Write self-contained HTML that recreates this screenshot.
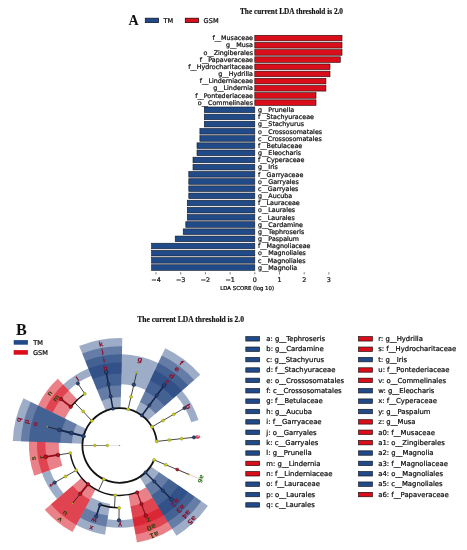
<!DOCTYPE html>
<html><head><meta charset="utf-8"><title>LEfSe</title>
<style>html,body{margin:0;padding:0;background:#fff}svg{display:block}</style></head>
<body><svg width="467" height="550" viewBox="0 0 467 550">
<rect width="467" height="550" fill="#fff"/>
<text x="240.0" y="14.0" font-family='"Liberation Serif","DejaVu Serif",serif' font-weight="bold" font-size="8.0" textLength="103" lengthAdjust="spacingAndGlyphs" fill="#111" stroke="#111" stroke-width="0.18">The current LDA threshold is 2.0</text>
<text x="128.6" y="24.5" font-family='"Liberation Serif","DejaVu Serif",serif' font-weight="bold" font-size="14.0" fill="#111">A</text>
<rect x="145.3" y="18.2" width="13.2" height="4.4" fill="#214a88" stroke="#141a28" stroke-width="0.8"/>
<text x="163.6" y="23" font-family='"DejaVu Sans","Liberation Sans",sans-serif' font-size="6.6" fill="#111" stroke="#111" stroke-width="0.24">TM</text>
<rect x="185.3" y="18.2" width="13.2" height="4.4" fill="#d90e1a" stroke="#2a0a0c" stroke-width="0.8"/>
<text x="203.6" y="23" font-family='"DejaVu Sans","Liberation Sans",sans-serif' font-size="6.6" fill="#111" stroke="#111" stroke-width="0.24">GSM</text>
<rect x="254.8" y="35.30" width="87.2" height="5.6" fill="#d90e1a" stroke="#2a0a0c" stroke-width="0.62"/>
<text x="253.0" y="40.30" text-anchor="end" font-family='"DejaVu Sans","Liberation Sans",sans-serif' font-size="6.35" fill="#111" stroke="#111" stroke-width="0.24">f__Musaceae</text>
<rect x="254.8" y="42.47" width="87.2" height="5.6" fill="#d90e1a" stroke="#2a0a0c" stroke-width="0.62"/>
<text x="253.0" y="47.47" text-anchor="end" font-family='"DejaVu Sans","Liberation Sans",sans-serif' font-size="6.35" fill="#111" stroke="#111" stroke-width="0.24">g__Musa</text>
<rect x="254.8" y="49.64" width="87.2" height="5.6" fill="#d90e1a" stroke="#2a0a0c" stroke-width="0.62"/>
<text x="253.0" y="54.64" text-anchor="end" font-family='"DejaVu Sans","Liberation Sans",sans-serif' font-size="6.35" fill="#111" stroke="#111" stroke-width="0.24">o__Zingiberales</text>
<rect x="254.8" y="56.81" width="85.5" height="5.6" fill="#d90e1a" stroke="#2a0a0c" stroke-width="0.62"/>
<text x="253.0" y="61.81" text-anchor="end" font-family='"DejaVu Sans","Liberation Sans",sans-serif' font-size="6.35" fill="#111" stroke="#111" stroke-width="0.24">f__Papaveraceae</text>
<rect x="254.8" y="63.98" width="75.2" height="5.6" fill="#d90e1a" stroke="#2a0a0c" stroke-width="0.62"/>
<text x="253.0" y="68.98" text-anchor="end" font-family='"DejaVu Sans","Liberation Sans",sans-serif' font-size="6.35" fill="#111" stroke="#111" stroke-width="0.24">f__Hydrocharitaceae</text>
<rect x="254.8" y="71.15" width="75.2" height="5.6" fill="#d90e1a" stroke="#2a0a0c" stroke-width="0.62"/>
<text x="253.0" y="76.15" text-anchor="end" font-family='"DejaVu Sans","Liberation Sans",sans-serif' font-size="6.35" fill="#111" stroke="#111" stroke-width="0.24">g__Hydrilla</text>
<rect x="254.8" y="78.32" width="71.1" height="5.6" fill="#d90e1a" stroke="#2a0a0c" stroke-width="0.62"/>
<text x="253.0" y="83.32" text-anchor="end" font-family='"DejaVu Sans","Liberation Sans",sans-serif' font-size="6.35" fill="#111" stroke="#111" stroke-width="0.24">f__Linderniaceae</text>
<rect x="254.8" y="85.49" width="71.1" height="5.6" fill="#d90e1a" stroke="#2a0a0c" stroke-width="0.62"/>
<text x="253.0" y="90.49" text-anchor="end" font-family='"DejaVu Sans","Liberation Sans",sans-serif' font-size="6.35" fill="#111" stroke="#111" stroke-width="0.24">g__Lindernia</text>
<rect x="254.8" y="92.66" width="61.2" height="5.6" fill="#d90e1a" stroke="#2a0a0c" stroke-width="0.62"/>
<text x="253.0" y="97.66" text-anchor="end" font-family='"DejaVu Sans","Liberation Sans",sans-serif' font-size="6.35" fill="#111" stroke="#111" stroke-width="0.24">f__Pontederiaceae</text>
<rect x="254.8" y="99.83" width="61.2" height="5.6" fill="#d90e1a" stroke="#2a0a0c" stroke-width="0.62"/>
<text x="253.0" y="104.83" text-anchor="end" font-family='"DejaVu Sans","Liberation Sans",sans-serif' font-size="6.35" fill="#111" stroke="#111" stroke-width="0.24">o__Commelinales</text>
<rect x="204.3" y="107.00" width="50.5" height="5.6" fill="#214a88" stroke="#141a28" stroke-width="0.62"/>
<text x="258.0" y="112.00" font-family='"DejaVu Sans","Liberation Sans",sans-serif' font-size="6.35" fill="#111" stroke="#111" stroke-width="0.24">g__Prunella</text>
<rect x="204.3" y="114.17" width="50.5" height="5.6" fill="#214a88" stroke="#141a28" stroke-width="0.62"/>
<text x="258.0" y="119.17" font-family='"DejaVu Sans","Liberation Sans",sans-serif' font-size="6.35" fill="#111" stroke="#111" stroke-width="0.24">f__Stachyuraceae</text>
<rect x="204.3" y="121.34" width="50.5" height="5.6" fill="#214a88" stroke="#141a28" stroke-width="0.62"/>
<text x="258.0" y="126.34" font-family='"DejaVu Sans","Liberation Sans",sans-serif' font-size="6.35" fill="#111" stroke="#111" stroke-width="0.24">g__Stachyurus</text>
<rect x="199.9" y="128.51" width="54.9" height="5.6" fill="#214a88" stroke="#141a28" stroke-width="0.62"/>
<text x="258.0" y="133.51" font-family='"DejaVu Sans","Liberation Sans",sans-serif' font-size="6.35" fill="#111" stroke="#111" stroke-width="0.24">o__Crossosomatales</text>
<rect x="199.9" y="135.68" width="54.9" height="5.6" fill="#214a88" stroke="#141a28" stroke-width="0.62"/>
<text x="258.0" y="140.68" font-family='"DejaVu Sans","Liberation Sans",sans-serif' font-size="6.35" fill="#111" stroke="#111" stroke-width="0.24">c__Crossosomatales</text>
<rect x="197.0" y="142.85" width="57.8" height="5.6" fill="#214a88" stroke="#141a28" stroke-width="0.62"/>
<text x="258.0" y="147.85" font-family='"DejaVu Sans","Liberation Sans",sans-serif' font-size="6.35" fill="#111" stroke="#111" stroke-width="0.24">f__Betulaceae</text>
<rect x="197.0" y="150.02" width="57.8" height="5.6" fill="#214a88" stroke="#141a28" stroke-width="0.62"/>
<text x="258.0" y="155.02" font-family='"DejaVu Sans","Liberation Sans",sans-serif' font-size="6.35" fill="#111" stroke="#111" stroke-width="0.24">g__Eleocharis</text>
<rect x="193.0" y="157.19" width="61.8" height="5.6" fill="#214a88" stroke="#141a28" stroke-width="0.62"/>
<text x="258.0" y="162.19" font-family='"DejaVu Sans","Liberation Sans",sans-serif' font-size="6.35" fill="#111" stroke="#111" stroke-width="0.24">f__Cyperaceae</text>
<rect x="193.0" y="164.36" width="61.8" height="5.6" fill="#214a88" stroke="#141a28" stroke-width="0.62"/>
<text x="258.0" y="169.36" font-family='"DejaVu Sans","Liberation Sans",sans-serif' font-size="6.35" fill="#111" stroke="#111" stroke-width="0.24">g__Iris</text>
<rect x="188.8" y="171.53" width="66.0" height="5.6" fill="#214a88" stroke="#141a28" stroke-width="0.62"/>
<text x="258.0" y="176.53" font-family='"DejaVu Sans","Liberation Sans",sans-serif' font-size="6.35" fill="#111" stroke="#111" stroke-width="0.24">f__Garryaceae</text>
<rect x="188.8" y="178.70" width="66.0" height="5.6" fill="#214a88" stroke="#141a28" stroke-width="0.62"/>
<text x="258.0" y="183.70" font-family='"DejaVu Sans","Liberation Sans",sans-serif' font-size="6.35" fill="#111" stroke="#111" stroke-width="0.24">o__Garryales</text>
<rect x="188.8" y="185.87" width="66.0" height="5.6" fill="#214a88" stroke="#141a28" stroke-width="0.62"/>
<text x="258.0" y="190.87" font-family='"DejaVu Sans","Liberation Sans",sans-serif' font-size="6.35" fill="#111" stroke="#111" stroke-width="0.24">c__Garryales</text>
<rect x="188.8" y="193.04" width="66.0" height="5.6" fill="#214a88" stroke="#141a28" stroke-width="0.62"/>
<text x="258.0" y="198.04" font-family='"DejaVu Sans","Liberation Sans",sans-serif' font-size="6.35" fill="#111" stroke="#111" stroke-width="0.24">g__Aucuba</text>
<rect x="187.3" y="200.21" width="67.5" height="5.6" fill="#214a88" stroke="#141a28" stroke-width="0.62"/>
<text x="258.0" y="205.21" font-family='"DejaVu Sans","Liberation Sans",sans-serif' font-size="6.35" fill="#111" stroke="#111" stroke-width="0.24">f__Lauraceae</text>
<rect x="187.3" y="207.38" width="67.5" height="5.6" fill="#214a88" stroke="#141a28" stroke-width="0.62"/>
<text x="258.0" y="212.38" font-family='"DejaVu Sans","Liberation Sans",sans-serif' font-size="6.35" fill="#111" stroke="#111" stroke-width="0.24">o__Laurales</text>
<rect x="187.3" y="214.55" width="67.5" height="5.6" fill="#214a88" stroke="#141a28" stroke-width="0.62"/>
<text x="258.0" y="219.55" font-family='"DejaVu Sans","Liberation Sans",sans-serif' font-size="6.35" fill="#111" stroke="#111" stroke-width="0.24">c__Laurales</text>
<rect x="185.8" y="221.72" width="69.0" height="5.6" fill="#214a88" stroke="#141a28" stroke-width="0.62"/>
<text x="258.0" y="226.72" font-family='"DejaVu Sans","Liberation Sans",sans-serif' font-size="6.35" fill="#111" stroke="#111" stroke-width="0.24">g__Cardamine</text>
<rect x="183.2" y="228.89" width="71.6" height="5.6" fill="#214a88" stroke="#141a28" stroke-width="0.62"/>
<text x="258.0" y="233.89" font-family='"DejaVu Sans","Liberation Sans",sans-serif' font-size="6.35" fill="#111" stroke="#111" stroke-width="0.24">g__Tephroseris</text>
<rect x="175.2" y="236.06" width="79.6" height="5.6" fill="#214a88" stroke="#141a28" stroke-width="0.62"/>
<text x="258.0" y="241.06" font-family='"DejaVu Sans","Liberation Sans",sans-serif' font-size="6.35" fill="#111" stroke="#111" stroke-width="0.24">g__Paspalum</text>
<rect x="151.6" y="243.23" width="103.2" height="5.6" fill="#214a88" stroke="#141a28" stroke-width="0.62"/>
<text x="258.0" y="248.23" font-family='"DejaVu Sans","Liberation Sans",sans-serif' font-size="6.35" fill="#111" stroke="#111" stroke-width="0.24">f__Magnoliaceae</text>
<rect x="151.6" y="250.40" width="103.2" height="5.6" fill="#214a88" stroke="#141a28" stroke-width="0.62"/>
<text x="258.0" y="255.40" font-family='"DejaVu Sans","Liberation Sans",sans-serif' font-size="6.35" fill="#111" stroke="#111" stroke-width="0.24">o__Magnoliales</text>
<rect x="151.6" y="257.57" width="103.2" height="5.6" fill="#214a88" stroke="#141a28" stroke-width="0.62"/>
<text x="258.0" y="262.57" font-family='"DejaVu Sans","Liberation Sans",sans-serif' font-size="6.35" fill="#111" stroke="#111" stroke-width="0.24">c__Magnoliales</text>
<rect x="151.6" y="264.74" width="103.2" height="5.6" fill="#214a88" stroke="#141a28" stroke-width="0.62"/>
<text x="258.0" y="269.74" font-family='"DejaVu Sans","Liberation Sans",sans-serif' font-size="6.35" fill="#111" stroke="#111" stroke-width="0.24">g__Magnolia</text>
<line x1="156.0" y1="272.2" x2="156.0" y2="274.4" stroke="#222" stroke-width="0.6"/>
<text x="156.0" y="282.3" text-anchor="middle" font-family='"DejaVu Sans","Liberation Sans",sans-serif' font-size="6.4" fill="#111" stroke="#111" stroke-width="0.24">−4</text>
<line x1="180.7" y1="272.2" x2="180.7" y2="274.4" stroke="#222" stroke-width="0.6"/>
<text x="180.7" y="282.3" text-anchor="middle" font-family='"DejaVu Sans","Liberation Sans",sans-serif' font-size="6.4" fill="#111" stroke="#111" stroke-width="0.24">−3</text>
<line x1="205.4" y1="272.2" x2="205.4" y2="274.4" stroke="#222" stroke-width="0.6"/>
<text x="205.4" y="282.3" text-anchor="middle" font-family='"DejaVu Sans","Liberation Sans",sans-serif' font-size="6.4" fill="#111" stroke="#111" stroke-width="0.24">−2</text>
<line x1="230.1" y1="272.2" x2="230.1" y2="274.4" stroke="#222" stroke-width="0.6"/>
<text x="230.1" y="282.3" text-anchor="middle" font-family='"DejaVu Sans","Liberation Sans",sans-serif' font-size="6.4" fill="#111" stroke="#111" stroke-width="0.24">−1</text>
<line x1="254.8" y1="272.2" x2="254.8" y2="274.4" stroke="#222" stroke-width="0.6"/>
<text x="254.8" y="282.3" text-anchor="middle" font-family='"DejaVu Sans","Liberation Sans",sans-serif' font-size="6.4" fill="#111" stroke="#111" stroke-width="0.24">0</text>
<line x1="279.5" y1="272.2" x2="279.5" y2="274.4" stroke="#222" stroke-width="0.6"/>
<text x="279.5" y="282.3" text-anchor="middle" font-family='"DejaVu Sans","Liberation Sans",sans-serif' font-size="6.4" fill="#111" stroke="#111" stroke-width="0.24">1</text>
<line x1="304.2" y1="272.2" x2="304.2" y2="274.4" stroke="#222" stroke-width="0.6"/>
<text x="304.2" y="282.3" text-anchor="middle" font-family='"DejaVu Sans","Liberation Sans",sans-serif' font-size="6.4" fill="#111" stroke="#111" stroke-width="0.24">2</text>
<line x1="328.9" y1="272.2" x2="328.9" y2="274.4" stroke="#222" stroke-width="0.6"/>
<text x="328.9" y="282.3" text-anchor="middle" font-family='"DejaVu Sans","Liberation Sans",sans-serif' font-size="6.4" fill="#111" stroke="#111" stroke-width="0.24">3</text>
<text x="247.2" y="289.6" text-anchor="middle" font-family='"DejaVu Sans","Liberation Sans",sans-serif' font-size="5.4" fill="#111" stroke="#111" stroke-width="0.24">LDA SCORE (log 10)</text>
<text x="137.2" y="322.0" font-family='"Liberation Serif","DejaVu Serif",serif' font-weight="bold" font-size="8.2" textLength="106.8" lengthAdjust="spacingAndGlyphs" fill="#111" stroke="#111" stroke-width="0.18">The current LDA threshold is 2.0</text>
<text x="16.0" y="334.9" font-family='"Liberation Serif","DejaVu Serif",serif' font-weight="bold" font-size="16.2" fill="#111">B</text>
<rect x="13.7" y="340.1" width="14.2" height="4.6" fill="#214a88"/>
<text x="33.3" y="344.9" font-family='"DejaVu Sans","Liberation Sans",sans-serif' font-size="6.6" fill="#111" stroke="#111" stroke-width="0.22">TM</text>
<rect x="13.7" y="350.1" width="14.2" height="4.6" fill="#d90e1a"/>
<text x="33.0" y="354.9" font-family='"DejaVu Sans","Liberation Sans",sans-serif' font-size="6.6" fill="#111" stroke="#111" stroke-width="0.22">GSM</text>
<rect x="245.8" y="336.65" width="13.8" height="4.4" fill="#214a88" stroke="#141a28" stroke-width="0.7"/>
<text x="266.3" y="341.10" font-family='"DejaVu Sans","Liberation Sans",sans-serif' font-size="6.85" fill="#111" stroke="#111" stroke-width="0.24">a: g__Tephroseris</text>
<rect x="245.8" y="347.03" width="13.8" height="4.4" fill="#214a88" stroke="#141a28" stroke-width="0.7"/>
<text x="266.3" y="351.48" font-family='"DejaVu Sans","Liberation Sans",sans-serif' font-size="6.85" fill="#111" stroke="#111" stroke-width="0.24">b: g__Cardamine</text>
<rect x="245.8" y="357.41" width="13.8" height="4.4" fill="#214a88" stroke="#141a28" stroke-width="0.7"/>
<text x="266.3" y="361.86" font-family='"DejaVu Sans","Liberation Sans",sans-serif' font-size="6.85" fill="#111" stroke="#111" stroke-width="0.24">c: g__Stachyurus</text>
<rect x="245.8" y="367.79" width="13.8" height="4.4" fill="#214a88" stroke="#141a28" stroke-width="0.7"/>
<text x="266.3" y="372.24" font-family='"DejaVu Sans","Liberation Sans",sans-serif' font-size="6.85" fill="#111" stroke="#111" stroke-width="0.24">d: f__Stachyuraceae</text>
<rect x="245.8" y="378.17" width="13.8" height="4.4" fill="#214a88" stroke="#141a28" stroke-width="0.7"/>
<text x="266.3" y="382.62" font-family='"DejaVu Sans","Liberation Sans",sans-serif' font-size="6.85" fill="#111" stroke="#111" stroke-width="0.24">e: o__Crossosomatales</text>
<rect x="245.8" y="388.55" width="13.8" height="4.4" fill="#214a88" stroke="#141a28" stroke-width="0.7"/>
<text x="266.3" y="393.00" font-family='"DejaVu Sans","Liberation Sans",sans-serif' font-size="6.85" fill="#111" stroke="#111" stroke-width="0.24">f: c__Crossosomatales</text>
<rect x="245.8" y="398.93" width="13.8" height="4.4" fill="#214a88" stroke="#141a28" stroke-width="0.7"/>
<text x="266.3" y="403.38" font-family='"DejaVu Sans","Liberation Sans",sans-serif' font-size="6.85" fill="#111" stroke="#111" stroke-width="0.24">g: f__Betulaceae</text>
<rect x="245.8" y="409.31" width="13.8" height="4.4" fill="#214a88" stroke="#141a28" stroke-width="0.7"/>
<text x="266.3" y="413.76" font-family='"DejaVu Sans","Liberation Sans",sans-serif' font-size="6.85" fill="#111" stroke="#111" stroke-width="0.24">h: g__Aucuba</text>
<rect x="245.8" y="419.69" width="13.8" height="4.4" fill="#214a88" stroke="#141a28" stroke-width="0.7"/>
<text x="266.3" y="424.14" font-family='"DejaVu Sans","Liberation Sans",sans-serif' font-size="6.85" fill="#111" stroke="#111" stroke-width="0.24">i: f__Garryaceae</text>
<rect x="245.8" y="430.07" width="13.8" height="4.4" fill="#214a88" stroke="#141a28" stroke-width="0.7"/>
<text x="266.3" y="434.52" font-family='"DejaVu Sans","Liberation Sans",sans-serif' font-size="6.85" fill="#111" stroke="#111" stroke-width="0.24">j: o__Garryales</text>
<rect x="245.8" y="440.45" width="13.8" height="4.4" fill="#214a88" stroke="#141a28" stroke-width="0.7"/>
<text x="266.3" y="444.90" font-family='"DejaVu Sans","Liberation Sans",sans-serif' font-size="6.85" fill="#111" stroke="#111" stroke-width="0.24">k: c__Garryales</text>
<rect x="245.8" y="450.83" width="13.8" height="4.4" fill="#214a88" stroke="#141a28" stroke-width="0.7"/>
<text x="266.3" y="455.28" font-family='"DejaVu Sans","Liberation Sans",sans-serif' font-size="6.85" fill="#111" stroke="#111" stroke-width="0.24">l: g__Prunella</text>
<rect x="245.8" y="461.21" width="13.8" height="4.4" fill="#d90e1a" stroke="#2a0a0c" stroke-width="0.7"/>
<text x="266.3" y="465.66" font-family='"DejaVu Sans","Liberation Sans",sans-serif' font-size="6.85" fill="#111" stroke="#111" stroke-width="0.24">m: g__Lindernia</text>
<rect x="245.8" y="471.59" width="13.8" height="4.4" fill="#d90e1a" stroke="#2a0a0c" stroke-width="0.7"/>
<text x="266.3" y="476.04" font-family='"DejaVu Sans","Liberation Sans",sans-serif' font-size="6.85" fill="#111" stroke="#111" stroke-width="0.24">n: f__Linderniaceae</text>
<rect x="245.8" y="481.97" width="13.8" height="4.4" fill="#214a88" stroke="#141a28" stroke-width="0.7"/>
<text x="266.3" y="486.42" font-family='"DejaVu Sans","Liberation Sans",sans-serif' font-size="6.85" fill="#111" stroke="#111" stroke-width="0.24">o: f__Lauraceae</text>
<rect x="245.8" y="492.35" width="13.8" height="4.4" fill="#214a88" stroke="#141a28" stroke-width="0.7"/>
<text x="266.3" y="496.80" font-family='"DejaVu Sans","Liberation Sans",sans-serif' font-size="6.85" fill="#111" stroke="#111" stroke-width="0.24">p: o__Laurales</text>
<rect x="245.8" y="502.73" width="13.8" height="4.4" fill="#214a88" stroke="#141a28" stroke-width="0.7"/>
<text x="266.3" y="507.18" font-family='"DejaVu Sans","Liberation Sans",sans-serif' font-size="6.85" fill="#111" stroke="#111" stroke-width="0.24">q: c__Laurales</text>
<rect x="358.6" y="336.65" width="13.8" height="4.4" fill="#d90e1a" stroke="#2a0a0c" stroke-width="0.7"/>
<text x="378.3" y="341.10" font-family='"DejaVu Sans","Liberation Sans",sans-serif' font-size="6.85" fill="#111" stroke="#111" stroke-width="0.24">r: g__Hydrilla</text>
<rect x="358.6" y="347.03" width="13.8" height="4.4" fill="#d90e1a" stroke="#2a0a0c" stroke-width="0.7"/>
<text x="378.3" y="351.48" font-family='"DejaVu Sans","Liberation Sans",sans-serif' font-size="6.85" fill="#111" stroke="#111" stroke-width="0.24">s: f__Hydrocharitaceae</text>
<rect x="358.6" y="357.41" width="13.8" height="4.4" fill="#214a88" stroke="#141a28" stroke-width="0.7"/>
<text x="378.3" y="361.86" font-family='"DejaVu Sans","Liberation Sans",sans-serif' font-size="6.85" fill="#111" stroke="#111" stroke-width="0.24">t: g__Iris</text>
<rect x="358.6" y="367.79" width="13.8" height="4.4" fill="#d90e1a" stroke="#2a0a0c" stroke-width="0.7"/>
<text x="378.3" y="372.24" font-family='"DejaVu Sans","Liberation Sans",sans-serif' font-size="6.85" fill="#111" stroke="#111" stroke-width="0.24">u: f__Pontederiaceae</text>
<rect x="358.6" y="378.17" width="13.8" height="4.4" fill="#d90e1a" stroke="#2a0a0c" stroke-width="0.7"/>
<text x="378.3" y="382.62" font-family='"DejaVu Sans","Liberation Sans",sans-serif' font-size="6.85" fill="#111" stroke="#111" stroke-width="0.24">v: o__Commelinales</text>
<rect x="358.6" y="388.55" width="13.8" height="4.4" fill="#214a88" stroke="#141a28" stroke-width="0.7"/>
<text x="378.3" y="393.00" font-family='"DejaVu Sans","Liberation Sans",sans-serif' font-size="6.85" fill="#111" stroke="#111" stroke-width="0.24">w: g__Eleocharis</text>
<rect x="358.6" y="398.93" width="13.8" height="4.4" fill="#214a88" stroke="#141a28" stroke-width="0.7"/>
<text x="378.3" y="403.38" font-family='"DejaVu Sans","Liberation Sans",sans-serif' font-size="6.85" fill="#111" stroke="#111" stroke-width="0.24">x: f__Cyperaceae</text>
<rect x="358.6" y="409.31" width="13.8" height="4.4" fill="#214a88" stroke="#141a28" stroke-width="0.7"/>
<text x="378.3" y="413.76" font-family='"DejaVu Sans","Liberation Sans",sans-serif' font-size="6.85" fill="#111" stroke="#111" stroke-width="0.24">y: g__Paspalum</text>
<rect x="358.6" y="419.69" width="13.8" height="4.4" fill="#d90e1a" stroke="#2a0a0c" stroke-width="0.7"/>
<text x="378.3" y="424.14" font-family='"DejaVu Sans","Liberation Sans",sans-serif' font-size="6.85" fill="#111" stroke="#111" stroke-width="0.24">z: g__Musa</text>
<rect x="358.6" y="430.07" width="13.8" height="4.4" fill="#d90e1a" stroke="#2a0a0c" stroke-width="0.7"/>
<text x="378.3" y="434.52" font-family='"DejaVu Sans","Liberation Sans",sans-serif' font-size="6.85" fill="#111" stroke="#111" stroke-width="0.24">a0: f__Musaceae</text>
<rect x="358.6" y="440.45" width="13.8" height="4.4" fill="#d90e1a" stroke="#2a0a0c" stroke-width="0.7"/>
<text x="378.3" y="444.90" font-family='"DejaVu Sans","Liberation Sans",sans-serif' font-size="6.85" fill="#111" stroke="#111" stroke-width="0.24">a1: o__Zingiberales</text>
<rect x="358.6" y="450.83" width="13.8" height="4.4" fill="#214a88" stroke="#141a28" stroke-width="0.7"/>
<text x="378.3" y="455.28" font-family='"DejaVu Sans","Liberation Sans",sans-serif' font-size="6.85" fill="#111" stroke="#111" stroke-width="0.24">a2: g__Magnolia</text>
<rect x="358.6" y="461.21" width="13.8" height="4.4" fill="#214a88" stroke="#141a28" stroke-width="0.7"/>
<text x="378.3" y="465.66" font-family='"DejaVu Sans","Liberation Sans",sans-serif' font-size="6.85" fill="#111" stroke="#111" stroke-width="0.24">a3: f__Magnoliaceae</text>
<rect x="358.6" y="471.59" width="13.8" height="4.4" fill="#214a88" stroke="#141a28" stroke-width="0.7"/>
<text x="378.3" y="476.04" font-family='"DejaVu Sans","Liberation Sans",sans-serif' font-size="6.85" fill="#111" stroke="#111" stroke-width="0.24">a4: o__Magnoliales</text>
<rect x="358.6" y="481.97" width="13.8" height="4.4" fill="#214a88" stroke="#141a28" stroke-width="0.7"/>
<text x="378.3" y="486.42" font-family='"DejaVu Sans","Liberation Sans",sans-serif' font-size="6.85" fill="#111" stroke="#111" stroke-width="0.24">a5: c__Magnoliales</text>
<rect x="358.6" y="492.35" width="13.8" height="4.4" fill="#d90e1a" stroke="#2a0a0c" stroke-width="0.7"/>
<text x="378.3" y="496.80" font-family='"DejaVu Sans","Liberation Sans",sans-serif' font-size="6.85" fill="#111" stroke="#111" stroke-width="0.24">a6: f__Papaveraceae</text>
<path d="M198.51 420.03 A82.7 82.7 0 0 0 181.97 390.68 L176.25 395.68 A75.10 75.10 0 0 1 191.26 422.33 Z" fill="#173b7a" fill-opacity="0.42"/>
<path d="M200.27 374.69 A107.0 107.0 0 0 0 165.17 348.24 L135.21 412.06 A36.50 36.50 0 0 1 147.18 421.08 Z" fill="#173b7a" fill-opacity="0.42"/>
<path d="M194.17 380.02 A98.9 98.9 0 0 0 161.73 355.58 L139.99 401.88 A47.75 47.75 0 0 1 155.66 413.68 Z" fill="#173b7a" fill-opacity="0.42"/>
<path d="M188.07 385.35 A90.8 90.8 0 0 0 158.29 362.91 L145.03 391.16 A59.59 59.59 0 0 1 164.57 405.89 Z" fill="#173b7a" fill-opacity="0.42"/>
<path d="M181.97 390.68 A82.7 82.7 0 0 0 154.85 370.24 L150.06 380.44 A71.43 71.43 0 0 1 173.49 398.09 Z" fill="#173b7a" fill-opacity="0.42"/>
<path d="M158.29 362.91 A90.8 90.8 0 0 0 121.92 354.33 L121.19 384.22 A60.90 60.90 0 0 1 145.58 389.97 Z" fill="#173b7a" fill-opacity="0.42"/>
<path d="M122.31 338.13 A107.0 107.0 0 0 0 79.18 346.07 L105.88 411.32 A36.50 36.50 0 0 1 120.59 408.61 Z" fill="#173b7a" fill-opacity="0.42"/>
<path d="M122.12 346.23 A98.9 98.9 0 0 0 82.25 353.56 L101.62 400.91 A47.75 47.75 0 0 1 120.87 397.36 Z" fill="#173b7a" fill-opacity="0.42"/>
<path d="M121.92 354.33 A90.8 90.8 0 0 0 85.32 361.06 L97.14 389.95 A59.59 59.59 0 0 1 121.16 385.53 Z" fill="#173b7a" fill-opacity="0.42"/>
<path d="M121.72 362.42 A82.7 82.7 0 0 0 88.39 368.56 L92.65 378.98 A71.43 71.43 0 0 1 121.45 373.69 Z" fill="#173b7a" fill-opacity="0.42"/>
<path d="M88.39 368.56 A82.7 82.7 0 0 0 63.30 384.62 L68.69 390.39 A74.80 74.80 0 0 1 91.38 375.87 Z" fill="#173b7a" fill-opacity="0.42"/>
<path d="M57.77 378.69 A90.8 90.8 0 0 0 38.02 405.44 L64.92 418.50 A60.90 60.90 0 0 1 78.17 400.56 Z" fill="#d60d1c" fill-opacity="0.52"/>
<path d="M63.30 384.62 A82.7 82.7 0 0 0 45.31 408.98 L52.68 412.56 A74.50 74.50 0 0 1 68.89 390.61 Z" fill="#d60d1c" fill-opacity="0.52"/>
<path d="M23.45 398.36 A107.0 107.0 0 0 0 12.78 440.90 L83.23 443.67 A36.50 36.50 0 0 1 86.87 429.16 Z" fill="#173b7a" fill-opacity="0.42"/>
<path d="M30.73 401.90 A98.9 98.9 0 0 0 20.88 441.22 L71.99 443.23 A47.75 47.75 0 0 1 76.75 424.24 Z" fill="#173b7a" fill-opacity="0.42"/>
<path d="M38.02 405.44 A90.8 90.8 0 0 0 28.97 441.54 L60.15 442.76 A59.59 59.59 0 0 1 66.09 419.07 Z" fill="#173b7a" fill-opacity="0.42"/>
<path d="M28.97 441.54 A90.8 90.8 0 0 0 34.27 475.86 L62.40 465.73 A60.90 60.90 0 0 1 58.85 442.71 Z" fill="#d60d1c" fill-opacity="0.52"/>
<path d="M37.06 441.85 A82.7 82.7 0 0 0 41.89 473.11 L49.79 470.27 A74.30 74.30 0 0 1 45.46 442.18 Z" fill="#d60d1c" fill-opacity="0.52"/>
<path d="M41.89 473.11 A82.7 82.7 0 0 0 57.05 499.08 L63.64 493.40 A74.00 74.00 0 0 1 50.07 470.17 Z" fill="#173b7a" fill-opacity="0.42"/>
<path d="M44.78 509.66 A98.9 98.9 0 0 0 72.51 532.02 L95.94 488.87 A49.80 49.80 0 0 1 81.97 477.61 Z" fill="#d60d1c" fill-opacity="0.52"/>
<path d="M50.91 504.37 A90.8 90.8 0 0 0 76.37 524.90 L90.07 499.67 A62.10 62.10 0 0 1 72.66 485.64 Z" fill="#d60d1c" fill-opacity="0.52"/>
<path d="M76.37 524.90 A90.8 90.8 0 0 0 105.03 534.71 L110.07 503.91 A59.59 59.59 0 0 1 91.27 497.47 Z" fill="#173b7a" fill-opacity="0.42"/>
<path d="M80.24 517.78 A82.7 82.7 0 0 0 106.34 526.71 L108.16 515.60 A71.43 71.43 0 0 1 85.61 507.88 Z" fill="#173b7a" fill-opacity="0.42"/>
<path d="M106.34 526.71 A82.7 82.7 0 0 0 134.13 526.53 L132.81 519.05 A75.10 75.10 0 0 1 107.56 519.21 Z" fill="#173b7a" fill-opacity="0.42"/>
<path d="M136.96 542.48 A98.9 98.9 0 0 0 172.18 528.93 L146.13 487.31 A49.80 49.80 0 0 1 128.39 494.14 Z" fill="#d60d1c" fill-opacity="0.52"/>
<path d="M135.55 534.51 A90.8 90.8 0 0 0 167.88 522.06 L152.71 497.82 A62.20 62.20 0 0 1 130.55 506.35 Z" fill="#d60d1c" fill-opacity="0.52"/>
<path d="M134.13 526.53 A82.7 82.7 0 0 0 163.59 515.20 L159.02 507.91 A74.10 74.10 0 0 1 132.63 518.06 Z" fill="#d60d1c" fill-opacity="0.52"/>
<path d="M176.48 535.79 A107.0 107.0 0 0 0 207.88 505.71 L149.78 465.77 A36.50 36.50 0 0 1 139.07 476.04 Z" fill="#173b7a" fill-opacity="0.42"/>
<path d="M172.18 528.93 A98.9 98.9 0 0 0 201.21 501.12 L159.05 472.15 A47.75 47.75 0 0 1 145.04 485.57 Z" fill="#173b7a" fill-opacity="0.42"/>
<path d="M167.88 522.06 A90.8 90.8 0 0 0 194.53 496.53 L168.81 478.85 A59.59 59.59 0 0 1 151.32 495.61 Z" fill="#173b7a" fill-opacity="0.42"/>
<path d="M163.59 515.20 A82.7 82.7 0 0 0 187.86 491.94 L178.57 485.56 A71.43 71.43 0 0 1 157.61 505.65 Z" fill="#173b7a" fill-opacity="0.42"/>
<line x1="190.74" y1="438.03" x2="201.95" y2="436.86" stroke="#173b7a" stroke-opacity="0.45" stroke-width="0.5"/>
<line x1="174.72" y1="468.40" x2="203.53" y2="480.39" stroke="#d60d1c" stroke-opacity="0.45" stroke-width="0.5"/>
<line x1="107.40" y1="445.50" x2="82.40" y2="445.50" stroke="#333" stroke-width="0.6" stroke-linecap="round"/>
<line x1="119.70" y1="445.50" x2="107.40" y2="445.50" stroke="#bbb" stroke-width="0.4" stroke-linecap="round"/>
<line x1="156.77" y1="441.41" x2="169.40" y2="440.01" stroke="#1a1a1a" stroke-width="0.8" stroke-linecap="round"/>
<line x1="169.40" y1="440.01" x2="181.72" y2="438.65" stroke="#1a1a1a" stroke-width="0.8" stroke-linecap="round"/>
<line x1="181.72" y1="438.65" x2="194.05" y2="437.29" stroke="#1a1a1a" stroke-width="0.8" stroke-linecap="round"/>
<line x1="152.00" y1="426.85" x2="163.00" y2="420.50" stroke="#1a1a1a" stroke-width="0.8" stroke-linecap="round"/>
<line x1="163.00" y1="420.50" x2="173.74" y2="414.30" stroke="#1a1a1a" stroke-width="0.8" stroke-linecap="round"/>
<line x1="173.74" y1="414.30" x2="184.48" y2="408.10" stroke="#1a1a1a" stroke-width="0.8" stroke-linecap="round"/>
<line x1="141.89" y1="415.52" x2="149.44" y2="405.31" stroke="#15264b" stroke-width="1.5999999999999999" stroke-linecap="round"/>
<line x1="149.44" y1="405.31" x2="156.82" y2="395.34" stroke="#15264b" stroke-width="1.5999999999999999" stroke-linecap="round"/>
<line x1="156.82" y1="395.34" x2="164.19" y2="385.37" stroke="#15264b" stroke-width="1.5999999999999999" stroke-linecap="round"/>
<line x1="128.15" y1="409.17" x2="131.03" y2="396.80" stroke="#1a1a1a" stroke-width="0.8" stroke-linecap="round"/>
<line x1="131.03" y1="396.80" x2="133.84" y2="384.72" stroke="#1a1a1a" stroke-width="0.8" stroke-linecap="round"/>
<line x1="133.84" y1="384.72" x2="136.65" y2="372.65" stroke="#1a1a1a" stroke-width="0.8" stroke-linecap="round"/>
<line x1="112.97" y1="408.81" x2="110.67" y2="396.32" stroke="#15264b" stroke-width="1.5" stroke-linecap="round"/>
<line x1="110.67" y1="396.32" x2="108.44" y2="384.13" stroke="#15264b" stroke-width="1.5" stroke-linecap="round"/>
<line x1="108.44" y1="384.13" x2="106.20" y2="371.93" stroke="#15264b" stroke-width="1.5" stroke-linecap="round"/>
<line x1="91.76" y1="420.78" x2="83.13" y2="411.40" stroke="#1a1a1a" stroke-width="0.8" stroke-linecap="round"/>
<line x1="83.13" y1="411.40" x2="74.51" y2="402.47" stroke="#1a1a1a" stroke-width="0.8" stroke-linecap="round"/>
<line x1="84.81" y1="393.77" x2="77.87" y2="383.49" stroke="#1a1a1a" stroke-width="0.8" stroke-linecap="round"/>
<line x1="70.76" y1="406.78" x2="61.04" y2="399.09" stroke="#960b18" stroke-width="1.8" stroke-linecap="round"/>
<line x1="83.59" y1="436.16" x2="71.29" y2="432.98" stroke="#15264b" stroke-width="1.9" stroke-linecap="round"/>
<line x1="71.29" y1="432.98" x2="59.29" y2="429.88" stroke="#15264b" stroke-width="1.9" stroke-linecap="round"/>
<line x1="59.29" y1="429.88" x2="47.28" y2="426.77" stroke="#1a1a1a" stroke-width="0.8" stroke-linecap="round"/>
<line x1="103.82" y1="479.25" x2="98.41" y2="490.74" stroke="#1a1a1a" stroke-width="0.8" stroke-linecap="round"/>
<line x1="70.28" y1="453.06" x2="58.02" y2="454.94" stroke="#1a1a1a" stroke-width="0.8" stroke-linecap="round"/>
<line x1="58.02" y1="454.94" x2="45.76" y2="456.81" stroke="#960b18" stroke-width="1.8" stroke-linecap="round"/>
<line x1="76.27" y1="470.27" x2="65.50" y2="476.42" stroke="#1a1a1a" stroke-width="0.8" stroke-linecap="round"/>
<line x1="65.50" y1="476.42" x2="54.73" y2="482.56" stroke="#1a1a1a" stroke-width="0.8" stroke-linecap="round"/>
<line x1="88.06" y1="484.22" x2="80.22" y2="493.82" stroke="#960b18" stroke-width="1.9" stroke-linecap="round"/>
<line x1="80.22" y1="493.82" x2="72.37" y2="503.42" stroke="#1a1a1a" stroke-width="0.8" stroke-linecap="round"/>
<line x1="115.17" y1="495.29" x2="114.48" y2="507.68" stroke="#1a1a1a" stroke-width="0.8" stroke-linecap="round"/>
<line x1="100.06" y1="504.73" x2="96.15" y2="516.50" stroke="#15264b" stroke-width="1.7" stroke-linecap="round"/>
<line x1="119.10" y1="507.90" x2="118.98" y2="520.30" stroke="#1a1a1a" stroke-width="0.8" stroke-linecap="round"/>
<line x1="137.13" y1="492.36" x2="141.45" y2="503.99" stroke="#960b18" stroke-width="1.2" stroke-linecap="round"/>
<line x1="141.45" y1="503.99" x2="145.77" y2="515.61" stroke="#960b18" stroke-width="1.2" stroke-linecap="round"/>
<line x1="145.54" y1="472.40" x2="154.34" y2="481.56" stroke="#15264b" stroke-width="1.4" stroke-linecap="round"/>
<line x1="154.34" y1="481.56" x2="162.93" y2="490.50" stroke="#15264b" stroke-width="1.4" stroke-linecap="round"/>
<line x1="162.93" y1="490.50" x2="171.52" y2="499.44" stroke="#15264b" stroke-width="1.4" stroke-linecap="round"/>
<line x1="154.11" y1="459.89" x2="165.83" y2="464.80" stroke="#1a1a1a" stroke-width="0.8" stroke-linecap="round"/>
<line x1="165.83" y1="464.80" x2="177.27" y2="469.58" stroke="#1a1a1a" stroke-width="0.8" stroke-linecap="round"/>
<line x1="177.27" y1="469.58" x2="188.71" y2="474.37" stroke="#1a1a1a" stroke-width="0.8" stroke-linecap="round"/>
<path d="M156.77 441.41 A37.3 37.3 0 1 0 154.11 459.89" fill="none" stroke="#111" stroke-width="1.8" stroke-linecap="round"/>
<path d="M70.28 453.06 A50.0 50.0 0 0 0 137.13 492.36" fill="none" stroke="#111" stroke-width="1.4" stroke-linecap="round"/>
<path d="M84.81 393.77 A62.4 62.4 0 0 0 70.76 406.78" fill="none" stroke="#111" stroke-width="1.4" stroke-linecap="round"/>
<path d="M100.06 504.73 A62.4 62.4 0 0 0 119.10 507.90" fill="none" stroke="#111" stroke-width="1.4" stroke-linecap="round"/>
<circle cx="107.40" cy="445.50" r="1.39" fill="#c8cc1e" stroke="#6b6e10" stroke-width="0.3"/>
<circle cx="94.90" cy="445.50" r="1.39" fill="#c8cc1e" stroke="#6b6e10" stroke-width="0.3"/>
<circle cx="119.7" cy="445.5" r="0.5" fill="#555"/>
<circle cx="156.77" cy="441.41" r="1.56" fill="#c8cc1e" stroke="#6b6e10" stroke-width="0.3"/>
<circle cx="169.40" cy="440.01" r="1.56" fill="#c8cc1e" stroke="#6b6e10" stroke-width="0.3"/>
<circle cx="181.72" cy="438.65" r="1.56" fill="#c8cc1e" stroke="#6b6e10" stroke-width="0.3"/>
<circle cx="194.05" cy="437.29" r="1.64" fill="#2a4677" stroke="#0e1a36" stroke-width="0.55"/>
<circle cx="152.00" cy="426.85" r="1.56" fill="#c8cc1e" stroke="#6b6e10" stroke-width="0.3"/>
<circle cx="163.00" cy="420.50" r="1.56" fill="#c8cc1e" stroke="#6b6e10" stroke-width="0.3"/>
<circle cx="173.74" cy="414.30" r="1.56" fill="#c8cc1e" stroke="#6b6e10" stroke-width="0.3"/>
<circle cx="184.48" cy="408.10" r="1.64" fill="#2a4677" stroke="#0e1a36" stroke-width="0.55"/>
<circle cx="141.89" cy="415.52" r="1.56" fill="#2a4677" stroke="#0e1a36" stroke-width="0.55"/>
<circle cx="149.44" cy="405.31" r="1.48" fill="#2a4677" stroke="#0e1a36" stroke-width="0.55"/>
<circle cx="156.82" cy="395.34" r="1.48" fill="#2a4677" stroke="#0e1a36" stroke-width="0.55"/>
<circle cx="164.19" cy="385.37" r="1.8" fill="#2a4677" stroke="#0e1a36" stroke-width="0.55"/>
<circle cx="128.15" cy="409.17" r="1.56" fill="#c8cc1e" stroke="#6b6e10" stroke-width="0.3"/>
<circle cx="131.03" cy="396.80" r="1.56" fill="#c8cc1e" stroke="#6b6e10" stroke-width="0.3"/>
<circle cx="133.84" cy="384.72" r="1.8" fill="#2a4677" stroke="#0e1a36" stroke-width="0.55"/>
<circle cx="136.65" cy="372.65" r="0.9" fill="#c8cc1e" stroke="#6b6e10" stroke-width="0.3"/>
<circle cx="112.97" cy="408.81" r="1.48" fill="#2a4677" stroke="#0e1a36" stroke-width="0.55"/>
<circle cx="110.67" cy="396.32" r="1.56" fill="#2a4677" stroke="#0e1a36" stroke-width="0.55"/>
<circle cx="108.44" cy="384.13" r="1.56" fill="#2a4677" stroke="#0e1a36" stroke-width="0.55"/>
<circle cx="106.20" cy="371.93" r="1.8" fill="#2a4677" stroke="#0e1a36" stroke-width="0.55"/>
<circle cx="91.76" cy="420.78" r="1.56" fill="#c8cc1e" stroke="#6b6e10" stroke-width="0.3"/>
<circle cx="83.13" cy="411.40" r="1.56" fill="#c8cc1e" stroke="#6b6e10" stroke-width="0.3"/>
<circle cx="84.81" cy="393.77" r="1.56" fill="#c8cc1e" stroke="#6b6e10" stroke-width="0.3"/>
<circle cx="77.87" cy="383.49" r="1.64" fill="#2a4677" stroke="#0e1a36" stroke-width="0.55"/>
<circle cx="70.76" cy="406.78" r="1.72" fill="#c20f1f" stroke="#4a0508" stroke-width="0.55"/>
<circle cx="61.04" cy="399.09" r="1.8" fill="#c20f1f" stroke="#4a0508" stroke-width="0.55"/>
<circle cx="83.59" cy="436.16" r="1.89" fill="#2a4677" stroke="#0e1a36" stroke-width="0.55"/>
<circle cx="71.29" cy="432.98" r="1.89" fill="#2a4677" stroke="#0e1a36" stroke-width="0.55"/>
<circle cx="59.29" cy="429.88" r="1.89" fill="#2a4677" stroke="#0e1a36" stroke-width="0.55"/>
<circle cx="47.28" cy="426.77" r="0.74" fill="#c8cc1e" stroke="#6b6e10" stroke-width="0.3"/>
<circle cx="103.82" cy="479.25" r="1.56" fill="#c8cc1e" stroke="#6b6e10" stroke-width="0.3"/>
<circle cx="70.28" cy="453.06" r="1.56" fill="#c8cc1e" stroke="#6b6e10" stroke-width="0.3"/>
<circle cx="58.02" cy="454.94" r="1.8" fill="#c20f1f" stroke="#4a0508" stroke-width="0.55"/>
<circle cx="45.76" cy="456.81" r="1.97" fill="#c20f1f" stroke="#4a0508" stroke-width="0.55"/>
<circle cx="76.27" cy="470.27" r="1.56" fill="#c8cc1e" stroke="#6b6e10" stroke-width="0.3"/>
<circle cx="65.50" cy="476.42" r="1.56" fill="#c8cc1e" stroke="#6b6e10" stroke-width="0.3"/>
<circle cx="54.73" cy="482.56" r="1.64" fill="#2a4677" stroke="#0e1a36" stroke-width="0.55"/>
<circle cx="88.06" cy="484.22" r="1.72" fill="#c20f1f" stroke="#4a0508" stroke-width="0.55"/>
<circle cx="80.22" cy="493.82" r="1.72" fill="#c20f1f" stroke="#4a0508" stroke-width="0.55"/>
<circle cx="72.37" cy="503.42" r="0.74" fill="#c8cc1e" stroke="#6b6e10" stroke-width="0.3"/>
<circle cx="115.17" cy="495.29" r="1.56" fill="#c8cc1e" stroke="#6b6e10" stroke-width="0.3"/>
<circle cx="100.06" cy="504.73" r="1.64" fill="#2a4677" stroke="#0e1a36" stroke-width="0.55"/>
<circle cx="96.15" cy="516.50" r="1.8" fill="#2a4677" stroke="#0e1a36" stroke-width="0.55"/>
<circle cx="119.10" cy="507.90" r="1.56" fill="#c8cc1e" stroke="#6b6e10" stroke-width="0.3"/>
<circle cx="118.98" cy="520.30" r="1.72" fill="#2a4677" stroke="#0e1a36" stroke-width="0.55"/>
<circle cx="137.13" cy="492.36" r="1.64" fill="#c20f1f" stroke="#4a0508" stroke-width="0.55"/>
<circle cx="141.45" cy="503.99" r="1.64" fill="#c20f1f" stroke="#4a0508" stroke-width="0.55"/>
<circle cx="145.77" cy="515.61" r="1.8" fill="#c20f1f" stroke="#4a0508" stroke-width="0.55"/>
<circle cx="145.54" cy="472.40" r="1.56" fill="#2a4677" stroke="#0e1a36" stroke-width="0.55"/>
<circle cx="154.34" cy="481.56" r="1.56" fill="#2a4677" stroke="#0e1a36" stroke-width="0.55"/>
<circle cx="162.93" cy="490.50" r="1.56" fill="#2a4677" stroke="#0e1a36" stroke-width="0.55"/>
<circle cx="171.52" cy="499.44" r="1.8" fill="#2a4677" stroke="#0e1a36" stroke-width="0.55"/>
<circle cx="154.11" cy="459.89" r="1.56" fill="#c8cc1e" stroke="#6b6e10" stroke-width="0.3"/>
<circle cx="165.83" cy="464.80" r="1.56" fill="#c8cc1e" stroke="#6b6e10" stroke-width="0.3"/>
<circle cx="177.27" cy="469.58" r="1.43" fill="#c20f1f" stroke="#4a0508" stroke-width="0.55"/>
<circle cx="188.71" cy="474.37" r="0.74" fill="#c8cc1e" stroke="#6b6e10" stroke-width="0.3"/>
<text transform="translate(197.92 436.88) rotate(84.0)" text-anchor="middle" y="1.71" font-family='"DejaVu Sans","Liberation Sans",sans-serif' font-weight="bold" font-size="6.2" fill="#c21a28">a</text>
<text transform="translate(188.22 406.49) rotate(60.6)" text-anchor="middle" y="2.66" font-family='"DejaVu Sans","Liberation Sans",sans-serif' font-weight="bold" font-size="7.0" fill="#881430">b</text>
<text transform="translate(167.03 382.29) rotate(37.0)" text-anchor="middle" y="1.93" font-family='"DejaVu Sans","Liberation Sans",sans-serif' font-weight="bold" font-size="7.0" fill="#881430">c</text>
<text transform="translate(171.91 375.82) rotate(37.0)" text-anchor="middle" y="2.66" font-family='"DejaVu Sans","Liberation Sans",sans-serif' font-weight="bold" font-size="7.0" fill="#881430">d</text>
<text transform="translate(176.78 369.35) rotate(37.0)" text-anchor="middle" y="1.93" font-family='"DejaVu Sans","Liberation Sans",sans-serif' font-weight="bold" font-size="7.0" fill="#881430">e</text>
<text transform="translate(181.66 362.88) rotate(37.0)" text-anchor="middle" y="2.66" font-family='"DejaVu Sans","Liberation Sans",sans-serif' font-weight="bold" font-size="7.0" fill="#881430">f</text>
<text transform="translate(139.62 360.67) rotate(13.3)" text-anchor="middle" y="1.19" font-family='"DejaVu Sans","Liberation Sans",sans-serif' font-weight="bold" font-size="7.0" fill="#881430">g</text>
<text transform="translate(105.47 367.75) rotate(-10.4)" text-anchor="middle" y="2.51" font-family='"DejaVu Sans","Liberation Sans",sans-serif' font-weight="bold" font-size="6.6" fill="#881430">h</text>
<text transform="translate(104.00 359.78) rotate(-10.4)" text-anchor="middle" y="2.51" font-family='"DejaVu Sans","Liberation Sans",sans-serif' font-weight="bold" font-size="6.6" fill="#881430">i</text>
<text transform="translate(102.54 351.82) rotate(-10.4)" text-anchor="middle" y="1.78" font-family='"DejaVu Sans","Liberation Sans",sans-serif' font-weight="bold" font-size="6.6" fill="#881430">j</text>
<text transform="translate(101.07 343.85) rotate(-10.4)" text-anchor="middle" y="2.51" font-family='"DejaVu Sans","Liberation Sans",sans-serif' font-weight="bold" font-size="6.6" fill="#881430">k</text>
<text transform="translate(77.30 378.86) rotate(-32.6)" text-anchor="middle" y="2.51" font-family='"DejaVu Sans","Liberation Sans",sans-serif' font-weight="bold" font-size="6.6" fill="#881430">l</text>
<text transform="translate(56.44 398.37) rotate(-53.6)" text-anchor="middle" y="1.81" font-family='"DejaVu Sans","Liberation Sans",sans-serif' font-weight="bold" font-size="6.6" fill="#3f4212">m</text>
<text transform="translate(49.92 393.56) rotate(-53.6)" text-anchor="middle" y="1.81" font-family='"DejaVu Sans","Liberation Sans",sans-serif' font-weight="bold" font-size="6.6" fill="#3f4212">n</text>
<text transform="translate(35.55 424.00) rotate(-75.9)" text-anchor="middle" y="1.81" font-family='"DejaVu Sans","Liberation Sans",sans-serif' font-weight="bold" font-size="6.6" fill="#881430">o</text>
<text transform="translate(27.70 422.03) rotate(-75.9)" text-anchor="middle" y="1.12" font-family='"DejaVu Sans","Liberation Sans",sans-serif' font-weight="bold" font-size="6.6" fill="#881430">p</text>
<text transform="translate(19.84 420.06) rotate(-75.9)" text-anchor="middle" y="1.12" font-family='"DejaVu Sans","Liberation Sans",sans-serif' font-weight="bold" font-size="6.6" fill="#881430">q</text>
<text transform="translate(41.97 457.10) rotate(-98.8)" text-anchor="middle" y="1.81" font-family='"DejaVu Sans","Liberation Sans",sans-serif' font-weight="bold" font-size="6.6" fill="#3f4212">r</text>
<text transform="translate(33.97 458.33) rotate(-98.8)" text-anchor="middle" y="1.81" font-family='"DejaVu Sans","Liberation Sans",sans-serif' font-weight="bold" font-size="6.6" fill="#3f4212">s</text>
<text transform="translate(51.34 485.00) rotate(-120.3)" text-anchor="middle" y="2.51" font-family='"DejaVu Sans","Liberation Sans",sans-serif' font-weight="bold" font-size="6.6" fill="#881430">t</text>
<text transform="translate(64.94 513.03) rotate(-141.1)" text-anchor="middle" y="1.81" font-family='"DejaVu Sans","Liberation Sans",sans-serif' font-weight="bold" font-size="6.6" fill="#3f4212">u</text>
<text transform="translate(59.86 519.33) rotate(-141.1)" text-anchor="middle" y="1.81" font-family='"DejaVu Sans","Liberation Sans",sans-serif' font-weight="bold" font-size="6.6" fill="#3f4212">v</text>
<text transform="translate(94.06 519.98) rotate(-161.1)" text-anchor="middle" y="1.81" font-family='"DejaVu Sans","Liberation Sans",sans-serif' font-weight="bold" font-size="6.6" fill="#881430">w</text>
<text transform="translate(91.44 527.65) rotate(-161.1)" text-anchor="middle" y="1.81" font-family='"DejaVu Sans","Liberation Sans",sans-serif' font-weight="bold" font-size="6.6" fill="#881430">x</text>
<text transform="translate(120.22 524.25) rotate(-180.4)" text-anchor="middle" y="1.12" font-family='"DejaVu Sans","Liberation Sans",sans-serif' font-weight="bold" font-size="6.6" fill="#881430">y</text>
<text transform="translate(148.49 519.90) rotate(-201.1)" text-anchor="middle" y="1.93" font-family='"DejaVu Sans","Liberation Sans",sans-serif' font-weight="bold" font-size="7.0" fill="#3f4212">z</text>
<text transform="translate(151.40 527.46) rotate(-201.1)" text-anchor="middle" y="2.55" font-family='"DejaVu Sans","Liberation Sans",sans-serif' font-weight="bold" font-size="7.0" fill="#3f4212">a0</text>
<text transform="translate(154.31 535.02) rotate(-201.1)" text-anchor="middle" y="2.55" font-family='"DejaVu Sans","Liberation Sans",sans-serif' font-weight="bold" font-size="7.0" fill="#3f4212">a1</text>
<text transform="translate(175.15 502.97) rotate(-223.8)" text-anchor="middle" y="2.55" font-family='"DejaVu Sans","Liberation Sans",sans-serif' font-weight="bold" font-size="7.0" fill="#881430">a2</text>
<text transform="translate(180.75 508.82) rotate(-223.8)" text-anchor="middle" y="2.55" font-family='"DejaVu Sans","Liberation Sans",sans-serif' font-weight="bold" font-size="7.0" fill="#881430">a3</text>
<text transform="translate(186.36 514.67) rotate(-223.8)" text-anchor="middle" y="2.55" font-family='"DejaVu Sans","Liberation Sans",sans-serif' font-weight="bold" font-size="7.0" fill="#881430">a4</text>
<text transform="translate(191.96 520.52) rotate(-223.8)" text-anchor="middle" y="2.55" font-family='"DejaVu Sans","Liberation Sans",sans-serif' font-weight="bold" font-size="7.0" fill="#881430">a5</text>
<text transform="translate(201.17 479.01) rotate(-247.4)" text-anchor="middle" y="2.26" font-family='"DejaVu Sans","Liberation Sans",sans-serif' font-weight="bold" font-size="6.2" fill="#3a7a2a">a6</text>
</svg></body></html>
